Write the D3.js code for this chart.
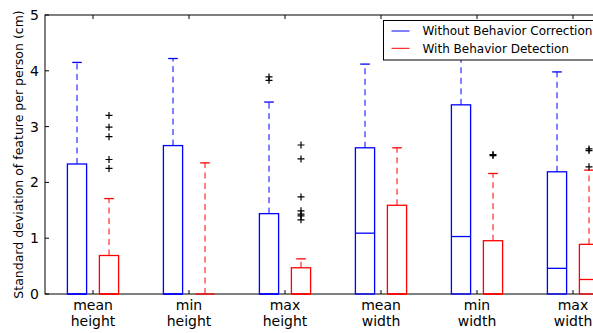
<!DOCTYPE html>
<html>
<head>
<meta charset="utf-8">
<script src="https://cdn.jsdelivr.net/npm/d3@7"></script>
<style>
  body { margin: 0; background: white; }
  text { font-family: "DejaVu Sans", sans-serif; fill: black; }
</style>
</head>
<body>
<div id="chart"></div>
<script>
// box plot data
const categories = ["mean\nheight", "min\nheight", "max\nheight", "mean\nwidth", "min\nwidth", "max\nwidth"];
const yTicks = [0, 1, 2, 3, 4, 5];

const blueQ1 = [0, 0, 0, 0, 0, 0];
const blueMed = [0, 0, 0, 1.09, 1.03, 0.46];
const blueQ3 = [2.33, 2.66, 1.44, 2.62, 3.39, 2.19];
const blueLo = [0, 0, 0, 0, 0, 0];
const blueHi = [4.15, 4.22, 3.44, 4.12, 4.55, 3.98];
const blueOut = [[], [], [3.89, 3.83], [], [], []];

const redQ1 = [0, 0, 0, 0, 0, 0];
const redMed = [0, 0, 0, 0, 0, 0.26];
const redQ3 = [0.69, 0, 0.47, 1.59, 0.955, 0.89];
const redLo = [0, 0, 0, 0, 0, 0];
const redHi = [1.71, 2.35, 0.63, 2.62, 2.16, 2.22];
const redOut = [[3.2, 2.99, 2.82, 2.41, 2.25], [], [2.67, 2.42, 1.74, 1.49, 1.43, 1.4, 1.33], [], [2.5, 2.48], [2.6, 2.57, 2.28]];

const seriesNames = ["Without Behavior Correction", "With Behavior Detection"];

const W = 593, H = 333;
const margin = { top: 15, left: 45, bottom: 39 };
const plotRight = 621;

const svg = d3.select("#chart").append("svg")
    .attr("width", W).attr("height", H);

const x = d3.scaleLinear().domain([0.5, 6.5]).range([margin.left, plotRight]);
const y = d3.scaleLinear().domain([0, 5]).range([H - margin.bottom, margin.top]);

const boxW = 0.2, offset = 1 / 6;

function series(q1, med, q3, lo, hi, out, color, shift) {
    return categories.map((c, i) => ({
        pos: i + 1 + shift, q1: q1[i], med: med[i], q3: q3[i], lo: lo[i], hi: hi[i], out: out[i], color: color
    }));
}

const boxes = series(blueQ1, blueMed, blueQ3, blueLo, blueHi, blueOut, "#0000ff", -offset)
    .concat(series(redQ1, redMed, redQ3, redLo, redHi, redOut, "#ff0000", offset));

// axes frame
const frame = svg.append("g");
frame.append("rect")
    .attr("x", margin.left).attr("y", margin.top)
    .attr("width", plotRight - margin.left).attr("height", y(0) - margin.top)
    .attr("fill", "none").attr("stroke", "black").attr("stroke-width", 1);

// ticks inside, both sides
yTicks.forEach(t => {
    frame.append("line")
        .attr("x1", margin.left).attr("x2", margin.left + 4)
        .attr("y1", y(t)).attr("y2", y(t))
        .attr("stroke", "black");
    frame.append("text")
        .attr("x", 39).attr("y", y(t)).attr("dy", "0.36em")
        .attr("text-anchor", "end").style("font-size", "14px")
        .text(t);
});

categories.forEach((c, i) => {
    const px = x(i + 1);
    frame.append("line").attr("x1", px).attr("x2", px)
        .attr("y1", y(0)).attr("y2", y(0) - 4).attr("stroke", "black");
    frame.append("line").attr("x1", px).attr("x2", px)
        .attr("y1", margin.top).attr("y2", margin.top + 4).attr("stroke", "black");
    const lbl = frame.append("text").attr("text-anchor", "middle").style("font-size", "14px");
    c.split("\n").forEach((line, k) => {
        lbl.append("tspan").attr("x", px).attr("y", 309.5 + k * 16).text(line);
    });
});

svg.append("text")
    .attr("transform", `translate(23, ${(margin.top + y(0)) / 2}) rotate(-90)`)
    .attr("text-anchor", "middle").style("font-size", "12.5px")
    .text("Standard deviation of feature per person (cm)");

// boxes
const g = svg.selectAll(".box").data(boxes).enter().append("g").attr("class", "box");

g.append("line")
    .attr("x1", d => x(d.pos)).attr("x2", d => x(d.pos))
    .attr("y1", d => y(d.q3)).attr("y2", d => y(d.hi))
    .attr("stroke", d => d.color).attr("stroke-dasharray", "6,4.5");
g.append("line")
    .attr("x1", d => x(d.pos)).attr("x2", d => x(d.pos))
    .attr("y1", d => y(d.q1)).attr("y2", d => y(d.lo))
    .attr("stroke", d => d.color).attr("stroke-dasharray", "6,4.5");
g.append("line")
    .attr("x1", d => x(d.pos - boxW / 4)).attr("x2", d => x(d.pos + boxW / 4))
    .attr("y1", d => y(d.hi)).attr("y2", d => y(d.hi))
    .attr("stroke", d => d.color).attr("stroke-width", 1.3);
g.append("rect")
    .attr("x", d => x(d.pos - boxW / 2))
    .attr("width", d => x(d.pos + boxW / 2) - x(d.pos - boxW / 2))
    .attr("y", d => y(d.q3))
    .attr("height", d => y(d.q1) - y(d.q3))
    .attr("fill", "none").attr("stroke", d => d.color).attr("stroke-width", 1.3);
g.append("line")
    .attr("x1", d => x(d.pos - boxW / 2)).attr("x2", d => x(d.pos + boxW / 2))
    .attr("y1", d => y(d.med)).attr("y2", d => y(d.med))
    .attr("stroke", d => d.color).attr("stroke-width", 1.3);

// outliers as '+'
g.each(function(d) {
    const sel = d3.select(this);
    d.out.forEach(v => {
        const cx = x(d.pos), cy = y(v);
        sel.append("path")
            .attr("d", `M${cx - 3.5},${cy}H${cx + 3.5}M${cx},${cy - 3.5}V${cy + 3.5}`)
            .attr("stroke", "black").attr("stroke-width", 1.2);
    });
});

// legend
const leg = svg.append("g");
leg.append("rect")
    .attr("x", 383.5).attr("y", 20.5).attr("width", 240).attr("height", 39.5)
    .attr("fill", "white").attr("stroke", "black").attr("stroke-width", 1);
seriesNames.forEach((name, i) => {
    const ly = 31 + i * 17.3;
    leg.append("line")
        .attr("x1", 391.5).attr("x2", 409.5).attr("y1", ly).attr("y2", ly)
        .attr("stroke", i === 0 ? "#0000ff" : "#ff0000");
    leg.append("text")
        .attr("x", 422.5).attr("y", ly).attr("dy", "0.36em")
        .style("font-size", "12px").text(name);
});
</script>
</body>
</html>
